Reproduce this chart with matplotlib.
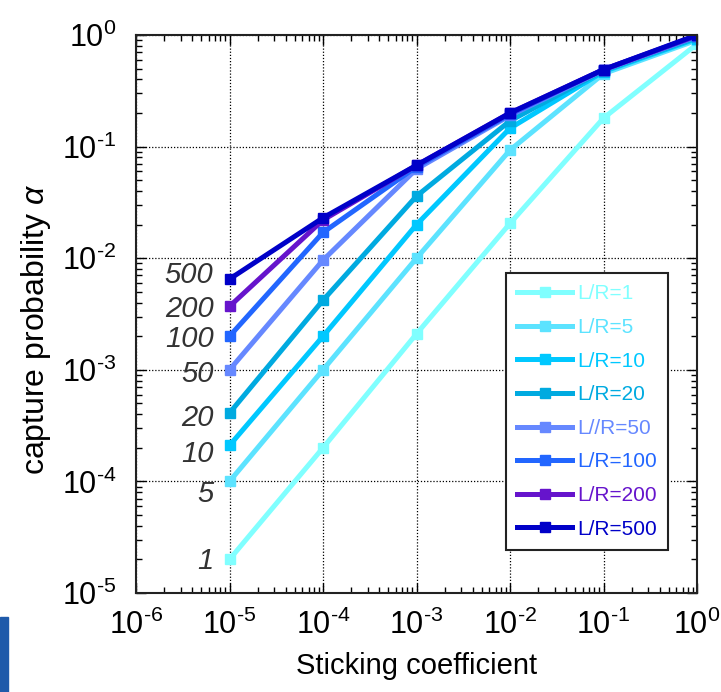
import matplotlib
matplotlib.use("Agg")
import matplotlib.pyplot as plt
from matplotlib.ticker import LogLocator, NullFormatter, FuncFormatter
from matplotlib.patches import Rectangle
import numpy as np

plt.rcParams['font.family'] = ['Liberation Sans', 'DejaVu Sans']
plt.rcParams['mathtext.fontset'] = 'custom'
plt.rcParams['mathtext.rm'] = 'Liberation Sans'
plt.rcParams['mathtext.it'] = 'Liberation Sans:italic'
plt.rcParams['mathtext.default'] = 'regular'

sticking = [1e-5, 1e-4, 1e-3, 1e-2, 1e-1, 1.0]
ratios = [1, 5, 10, 20, 50, 100, 200, 500]
legend_labels = ["L/R=1", "L/R=5", "L/R=10", "L/R=20", "L//R=50",
                 "L/R=100", "L/R=200", "L/R=500"]
alpha_1 = [2.0e-5, 2.0e-4, 2.1e-3, 2.05e-2, 0.18, 0.83]
alpha_5 = [1.0e-4, 1.0e-3, 1.0e-2, 9.3e-2, 0.45, 0.90]
alpha_10 = [2.1e-4, 2.0e-3, 2.0e-2, 0.146, 0.47, 0.93]
alpha_20 = [4.1e-4, 4.2e-3, 3.6e-2, 0.17, 0.48, 0.95]
alpha_50 = [1.0e-3, 9.6e-3, 6.3e-2, 0.19, 0.485, 0.97]
alpha_100 = [2.0e-3, 1.7e-2, 6.6e-2, 0.195, 0.49, 0.98]
alpha_200 = [3.7e-3, 2.2e-2, 6.8e-2, 0.20, 0.49, 0.99]
alpha_500 = [6.5e-3, 2.3e-2, 6.8e-2, 0.20, 0.49, 1.0]
series = [alpha_1, alpha_5, alpha_10, alpha_20, alpha_50, alpha_100, alpha_200, alpha_500]

colors = ["#80FFFF", "#5CE3FF", "#00C8FF", "#00AAE0", "#6688FF",
          "#2266FF", "#6614CC", "#0000C8"]
label_dy = [2, 13, 9, 5, 4, 3, 3, -4]  # vertical offsets (px) for the side labels

fig = plt.figure(figsize=(7.21, 6.92), dpi=100)
ax = fig.add_axes([136/721, 1-593/692, (697-136)/721, (593-35)/692])

for vals, c, lab in zip(series, colors, legend_labels):
    ax.plot(sticking, vals, color=c, lw=3.6, marker='s', ms=7,
            mec=c, mfc=c, label=lab, solid_joinstyle='round')

ax.set_xscale('log')
ax.set_yscale('log')
ax.set_xlim(1e-6, 1)
ax.set_ylim(1e-5, 1)

def pow_fmt(v, pos):
    e = int(round(np.log10(v)))
    return r'$10^{\text{%d}}$' % e

ax.xaxis.set_major_locator(LogLocator(base=10, numticks=10))
ax.yaxis.set_major_locator(LogLocator(base=10, numticks=10))
ax.xaxis.set_major_formatter(FuncFormatter(pow_fmt))
ax.yaxis.set_major_formatter(FuncFormatter(pow_fmt))
ax.xaxis.set_minor_locator(LogLocator(base=10, subs=range(2, 10), numticks=10))
ax.yaxis.set_minor_locator(LogLocator(base=10, subs=range(2, 10), numticks=10))
ax.xaxis.set_minor_formatter(NullFormatter())
ax.yaxis.set_minor_formatter(NullFormatter())
ax.tick_params(which='both', direction='in', top=True, right=True, color='black')
ax.tick_params(which='major', length=7, width=1.0, labelsize=22)
ax.tick_params(axis='x', which='major', pad=12)
ax.tick_params(axis='y', which='major', pad=14)
ax.tick_params(which='minor', length=4, width=1.0)
ax.grid(True, which='major', color='black', linestyle=(0, (1, 1.5)), lw=0.9)
for s in ax.spines.values():
    s.set_linewidth(1.5)
    s.set_color('#222222')

ax.set_xlabel("Sticking coefficient", fontsize=21, labelpad=8)
ax.set_ylabel(r"capture probability $\mathit{\alpha}$", fontsize=23)
ax.yaxis.set_label_coords(-0.148, 0.473)

for vals, r, dy in zip(series, ratios, label_dy):
    ax.annotate(str(r), xy=(sticking[0], vals[0]), xytext=(-16, -dy),
                textcoords='offset pixels', ha='right', va='center',
                fontsize=21, style='italic', color='#333333')

leg = ax.legend(loc='lower right', bbox_to_anchor=(668/721, 1-550/692),
                bbox_transform=fig.transFigure, fontsize=15, frameon=True,
                fancybox=False, edgecolor='#222222', framealpha=1,
                handlelength=2.6, labelspacing=0.7, borderpad=0.55,
                handletextpad=0.25, borderaxespad=0, numpoints=1)
leg.get_frame().set_linewidth(1.5)
for t, c in zip(leg.get_texts(), colors):
    t.set_color(c)

fig.patches.append(Rectangle((0, 0), 8/721, 75/692, transform=fig.transFigure,
                             color="#1F5AAA", zorder=5))

fig.savefig("out.png", dpi=100)
